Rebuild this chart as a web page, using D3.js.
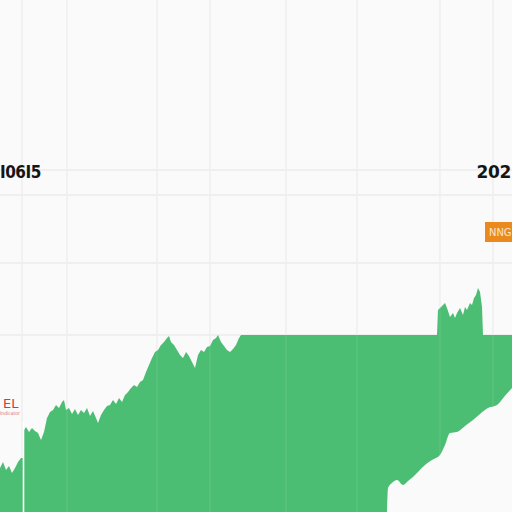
<!DOCTYPE html>
<html>
<head>
<meta charset="utf-8">
<script src="https://cdn.jsdelivr.net/npm/d3@7"></script>
<style>
  html, body { margin: 0; padding: 0; background: #fafafa; overflow: hidden; }
  svg { display: block; }
</style>
</head>
<body>
<svg id="chart" width="512" height="512"></svg>
<script>
(function () {
  'use strict';

  // ── Data ──────────────────────────────────────────────────────────────────
  var days = [0, 3, 6, 9, 12, 15, 18, 21, 23, 24, 26, 29, 32, 35, 38, 41, 44, 47, 50, 53,
    56, 59, 62, 64, 66, 69, 72, 75, 78, 81, 84, 87, 90, 93, 96, 98, 101, 104, 107, 110,
    113, 116, 119, 122, 125, 128, 131, 134, 137, 140, 143, 146, 149, 152, 155, 158, 161,
    164, 167, 169, 171, 174, 177, 180, 183, 186, 189, 192, 195, 198, 201, 204, 207, 210,
    213, 216, 218, 221, 224, 227, 230, 233, 236, 239, 241, 437, 438, 440, 443, 445, 447,
    450, 453, 455, 457, 460, 463, 465, 467, 470, 472, 474, 476, 478, 480, 482, 483, 512];
  var price = [22, 25, 21, 23, 19.5, 22, 25, 27, 27, 41, 42.5, 40, 42, 40.5, 39.5, 36, 40, 47, 50, 51,
    53.5, 52, 55, 56, 51, 52, 49, 51.5, 48.5, 51, 49.5, 52, 48, 50.5, 47, 44.5, 48.5, 51, 53, 53.5,
    56, 54, 57, 55, 58.5, 60, 62, 63.5, 62.5, 65, 66, 70, 73.5, 77, 80, 81, 83.5,
    85, 87, 88, 85, 83.5, 81, 78.5, 77, 80, 78, 75, 72, 78.5, 81, 80, 82.5, 83,
    86, 87, 88.5, 85, 83, 81, 80, 81.5, 83.5, 87, 88.5, 88.5, 101, 102, 103.5, 104.5, 102,
    97.5, 99.5, 97, 99.5, 102, 98.5, 102.5, 101, 104.5, 103.5, 107, 108.5, 112, 110, 102.5, 88.5, 88.5];

  var floorDays  = [387, 388, 392, 397, 403, 408, 413, 418, 425, 432, 440, 445, 450, 457, 465, 473, 480, 488, 497, 504, 512];
  var floorPrice = [0, 12, 14.5, 16, 13.5, 15.5, 17.5, 20, 23.5, 26, 28.5, 33.5, 39.5, 40, 43, 46, 49, 52, 53.5, 57.5, 62];

  var dayGrid   = [22, 67, 157, 210, 286, 357, 440, 493];
  var priceGrid = [171, 158.5, 124.5, 88.5];

  // ── Scales ────────────────────────────────────────────────────────────────
  var W = 512, H = 512;
  var x = d3.scaleLinear().domain([0, 512]).range([0, W]);
  var y = d3.scaleLinear().domain([0, 256]).range([H, 0]);

  var svg = d3.select('#chart');
  svg.append('rect').attr('width', W).attr('height', H).attr('fill', '#fafafa');

  // ── Grid ──────────────────────────────────────────────────────────────────
  svg.append('g').selectAll('line').data(priceGrid).join('line')
    .attr('x1', 0).attr('x2', W)
    .attr('y1', function (d) { return y(d); }).attr('y2', function (d) { return y(d); })
    .attr('stroke', '#e3e3e3').attr('stroke-width', 1.2);

  svg.append('g').selectAll('line').data(dayGrid).join('line')
    .attr('x1', function (d) { return x(d); }).attr('x2', function (d) { return x(d); })
    .attr('y1', 0).attr('y2', H)
    .attr('stroke', '#ececec').attr('stroke-width', 1.2);

  // ── Area ──────────────────────────────────────────────────────────────────
  var pts = days.map(function (d, i) { return [d, price[i]]; });
  var area = d3.area()
    .x(function (d) { return x(d[0]); })
    .y0(y(0))
    .y1(function (d) { return y(d[1]); });
  svg.append('path').datum(pts).attr('d', area).attr('fill', '#4cbe73');

  var floorPts = floorDays.map(function (d, i) { return [d, floorPrice[i]]; });
  var cut = d3.area()
    .curve(d3.curveMonotoneX)
    .x(function (d) { return x(d[0]); })
    .y0(y(0))
    .y1(function (d) { return y(d[1]); });
  svg.append('path').datum(floorPts).attr('d', cut).attr('fill', '#fafafa');

  // faint grid over the fill
  svg.append('g').selectAll('line').data(dayGrid.slice(1)).join('line')
    .attr('x1', function (d) { return x(d); }).attr('x2', function (d) { return x(d); })
    .attr('y1', 0).attr('y2', H)
    .attr('stroke', '#ffffff').attr('stroke-opacity', 0.12).attr('stroke-width', 1);
  svg.append('line')
    .attr('x1', x(dayGrid[0]) + 1.5).attr('x2', x(dayGrid[0]) + 1.5)
    .attr('y1', y(45)).attr('y2', H)
    .attr('stroke', '#ffffff').attr('stroke-width', 1.6);

  // ── Labels ────────────────────────────────────────────────────────────────
  svg.append('text').attr('x', 0).attr('y', 178)
    .attr('font-family', 'DejaVu Sans Condensed, DejaVu Sans, sans-serif')
    .attr('font-weight', 'bold').attr('font-size', 17).attr('fill', '#151515')
    .attr('letter-spacing', -0.5)
    .text('I06I5');

  svg.append('text').attr('x', 511).attr('y', 178)
    .attr('text-anchor', 'end')
    .attr('font-family', 'DejaVu Sans, sans-serif')
    .attr('font-weight', 'bold').attr('font-size', 17).attr('fill', '#151515')
    .attr('letter-spacing', -0.3)
    .text('202');

  svg.append('rect').attr('x', 485).attr('y', 222).attr('width', 30).attr('height', 20)
    .attr('fill', '#ea8a1e');
  svg.append('text').attr('x', 489).attr('y', 236)
    .attr('font-family', 'DejaVu Sans Condensed, sans-serif')
    .attr('font-size', 11).attr('fill', '#fde7c9')
    .text('NNG');

  svg.append('text').attr('x', 3).attr('y', 408)
    .attr('font-family', 'DejaVu Sans, sans-serif')
    .attr('font-size', 13).attr('fill', '#d23a3a')
    .text('EL');
  svg.append('text').attr('x', 0).attr('y', 415)
    .attr('font-family', 'DejaVu Sans Condensed, sans-serif')
    .attr('font-size', 5).attr('fill', '#d97070')
    .text('Indicator');
})();
</script>
</body>
</html>
